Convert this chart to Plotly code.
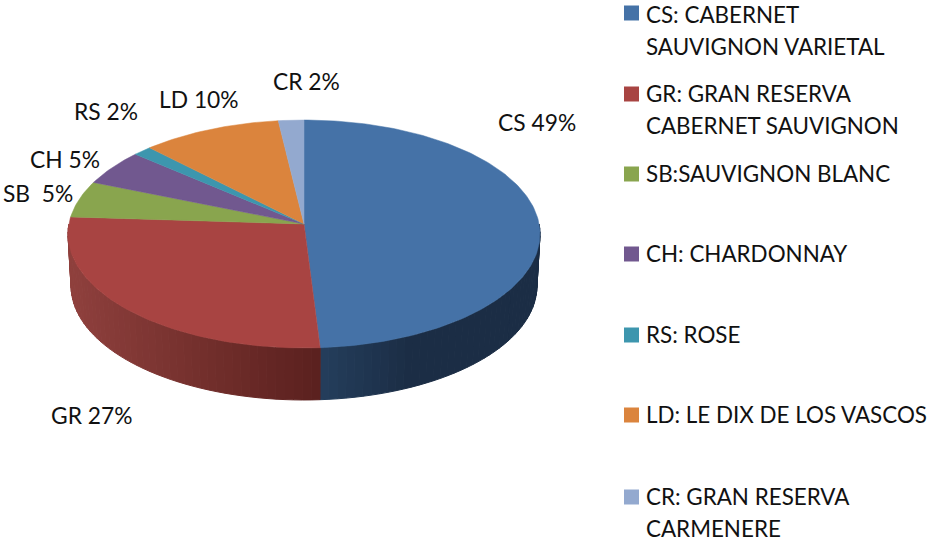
import math
import plotly.graph_objects as go

# Data
codes = ["CS", "GR", "SB", "CH", "RS", "LD", "CR"]
shares = [49.0, 27.0, 5.2, 5.1, 1.4, 10.4, 1.9]
pie_labels = ["CS 49%", "GR 27%", "SB  5%", "CH 5%", "RS 2%", "LD 10%", "CR 2%"]
legend_lines = [
    ["CS: CABERNET", "SAUVIGNON VARIETAL"],
    ["GR: GRAN RESERVA", "CABERNET SAUVIGNON"],
    ["SB:SAUVIGNON BLANC"],
    ["CH: CHARDONNAY"],
    ["RS: ROSE"],
    ["LD: LE DIX DE LOS VASCOS"],
    ["CR: GRAN RESERVA", "CARMENERE"],
]
colors = ["#4572A7", "#A84442", "#89A54E", "#71588F", "#3D96AE", "#DB843D", "#93A9CF"]
wall_colors = {"CS": ((36, 62, 92), (27, 45, 69)), "GR": ((143, 64, 61), (90, 32, 30))}

# Styles and layout
FONT = "Lato"
FS = 22.8
LEGEND_FS = 22.4
TEXT = "#111111"
label_pos = [(498, 122), (51, 415), (3, 193), (30, 159), (74, 111), (159, 99), (273, 81)]
legend_y = [13, 94, 174, 254, 335, 415, 497]
legend_text_y = [14, 93, 173, 253, 334, 414, 496]
LINE_GAP = 32.5
SWATCH_X, TEXT_X = 631.5, 646

# Projection of the disc (perspective, apex is off the ellipse centre)
CX, CY, A, B, K = 304, 224, 235.1, 113.1, 0.0877
DEPTH, SHRINK = 52, 0.987


def rim(theta, wall=False):
    u, v = math.sin(theta), -math.cos(theta)
    w = 1 - K * v
    if wall:
        return CX + SHRINK * A * u / w, CY + DEPTH + B * v / w
    return CX + A * u / w, CY + B * v / w


def arc(t0, t1, wall=False):
    n = max(2, int(abs(t1 - t0) / math.radians(1)) + 1)
    return [rim(t0 + (t1 - t0) * i / n, wall) for i in range(n + 1)]


fig = go.Figure()
total = sum(shares)
spans = []
a = 0.0
for s in shares:
    spans.append((a, a + s / total * 2 * math.pi))
    a = spans[-1][1]

# side wall: thin vertical bands shaded along x
for code, (t0, t1) in zip(codes[:2], spans[:2]):
    t_from = max(t0, math.pi / 2)
    t_to = min(t1, 3 * math.pi / 2)
    x_from, x_to = rim(t_from)[0], rim(t_to)[0]
    c0, c1 = wall_colors[code]
    n = int(abs(t_to - t_from) / math.radians(2)) + 1
    for i in range(n):
        ta = t_from + (t_to - t_from) * i / n
        tb = t_from + (t_to - t_from) * (i + 1) / n
        xm = rim((ta + tb) / 2)[0]
        if code == "CS":
            f = min(1.0, abs(xm - x_to) / 90)
        else:
            f = abs(xm - x_to) / abs(x_to - x_from)
        rgb = tuple(round(c0[j] + (c1[j] - c0[j]) * f) for j in range(3))
        col = "rgb(%d,%d,%d)" % rgb
        pts = arc(ta, tb) + arc(tb, ta, True)
        pts.append(pts[0])
        fig.add_trace(go.Scatter(
            x=[p[0] for p in pts], y=[p[1] for p in pts], mode="lines",
            fill="toself", fillcolor=col, line=dict(color=col, width=1),
            hoverinfo="skip", showlegend=False))

# top face
for code, share, col, (t0, t1) in zip(codes, shares, colors, spans):
    pts = [(CX, CY)] + arc(t0, t1) + [(CX, CY)]
    fig.add_trace(go.Scatter(
        x=[p[0] for p in pts], y=[p[1] for p in pts], mode="lines",
        fill="toself", fillcolor=col, line=dict(color=col, width=0.5),
        name=code, hoverinfo="name", showlegend=False))

# legend swatches
fig.add_trace(go.Scatter(
    x=[SWATCH_X] * len(codes), y=legend_y, mode="markers",
    marker=dict(symbol="square", size=15, color=colors, line=dict(width=0)),
    hoverinfo="skip", showlegend=False))

ann = []
for text, (x, y) in zip(pie_labels, label_pos):
    ann.append(dict(x=x, y=y, text=text.replace("  ", "&nbsp; "), xref="x", yref="y",
                    xanchor="left", yanchor="middle", showarrow=False,
                    xshift=-2, font=dict(family=FONT, size=FS, color=TEXT)))
for lines, y in zip(legend_lines, legend_text_y):
    for i, line in enumerate(lines):
        ann.append(dict(x=TEXT_X, y=y + i * LINE_GAP, text=line, xref="x", yref="y",
                        xanchor="left", yanchor="middle", showarrow=False,
                        xshift=-2, font=dict(family=FONT, size=LEGEND_FS, color=TEXT)))

fig.update_layout(
    width=930, height=539, margin=dict(l=0, r=0, t=0, b=0),
    paper_bgcolor="white", plot_bgcolor="white", showlegend=False,
    annotations=ann,
    xaxis=dict(range=[0, 930], visible=False, fixedrange=True),
    yaxis=dict(range=[539, 0], visible=False, fixedrange=True),
)
fig.write_html("out.html", config={"displayModeBar": False},
               post_script="document.body.style.margin='0';")
